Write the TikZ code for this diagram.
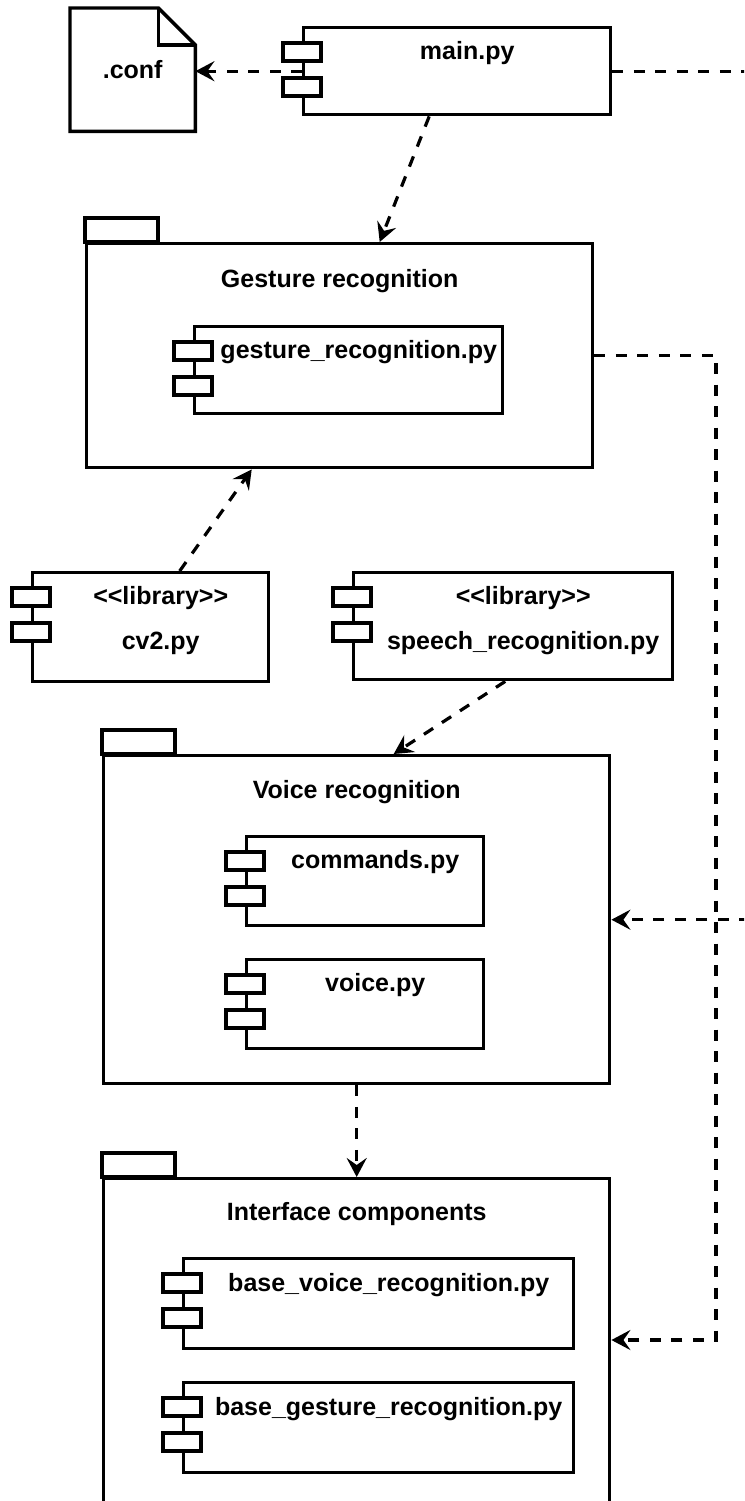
\documentclass[tikz,border=0pt]{standalone}
\usepackage{fontspec}
\setmainfont{Liberation Sans}
\usetikzlibrary{arrows.meta}

\tikzset{
  box/.style={draw, line width=3.4pt, inner sep=0pt, anchor=north west},
  txt/.style={font=\bfseries\fontsize{25}{30}\selectfont, inner sep=0pt},
  depline/.style={line width=3.2pt, dash pattern=on 11pt off 10.5pt},
  dep/.style={depline, -{Stealth[length=19pt,width=20pt,inset=7pt]}},
}
% the two small tabs on the left side of a component
\newcommand{\comptabs}[1]{%
  \foreach \dy in {-17,-52}
    \draw[line width=3.4pt, fill=white] ([xshift=-19pt,yshift=\dy pt]#1.north west) rectangle ++(38,18);
}
% tab on top of a package
\newcommand{\pkgtab}[1]{%
  \draw[line width=3.4pt] (#1.north west) rectangle ++(73,-24);
}
\newcommand{\stereo}[1]{<\kern0pt<#1>\kern0pt>}

\begin{document}
\begin{tikzpicture}[x=1pt,y=-1pt]
\clip (0,0) rectangle (744,1501);
\coordinate (edgeR) at (750,0);

% config file
\node[txt, minimum width=125pt, minimum height=123pt, anchor=north west] (conf) at (70,8) {.conf};
\draw[line width=3.4pt] (conf.north west) -- ([xshift=-37pt]conf.north east)
  -- ([yshift=-37pt]conf.north east) -- (conf.south east) -- (conf.south west) -- cycle;
\draw[line width=3.4pt] ([xshift=-37pt]conf.north east) |- ([yshift=-37pt]conf.north east);

% main
\node[box, minimum width=307pt, minimum height=87pt] (main) at (302,26) {};
\comptabs{main}
\node[txt] (mainlbl) at ([xshift=10pt,yshift=-27pt]main.north) {main.py};

% Gesture recognition
\node[box, minimum width=506pt, minimum height=224pt] (gest) at (85,242) {};
\pkgtab{gest}
\node[txt] (gestlbl) at ([yshift=-39pt]gest.north) {Gesture recognition};
\node[box, minimum width=308pt, minimum height=87pt] (gestpy) at (193,325) {};
\comptabs{gestpy}
\node[txt] (gestpylbl) at ([xshift=10pt,yshift=-27pt]gestpy.north) {gesture\_recognition.py};

% libraries
\node[box, minimum width=236pt, minimum height=109pt] (cv) at (31,571) {};
\comptabs{cv}
\node[txt] (cvst) at ([xshift=10pt,yshift=-27pt]cv.north) {\stereo{library}};
\node[txt] (cvlbl) at ([xshift=10pt,yshift=-72pt]cv.north) {cv2.py};

\node[box, minimum width=319pt, minimum height=107pt] (speech) at (352,571) {};
\comptabs{speech}
\node[txt] (speechst) at ([xshift=10pt,yshift=-27pt]speech.north) {\stereo{library}};
\node[txt] (speechlbl) at ([xshift=10pt,yshift=-72pt]speech.north) {speech\_recognition.py};

% Voice recognition
\node[box, minimum width=506pt, minimum height=328pt] (voice) at (102,754) {};
\pkgtab{voice}
\node[txt] (voicelbl) at ([yshift=-38pt]voice.north) {Voice recognition};
\node[box, minimum width=237pt, minimum height=89pt] (cmds) at (245,835) {};
\comptabs{cmds}
\node[txt] (cmdslbl) at ([xshift=10pt,yshift=-27pt]cmds.north) {commands.py};
\node[box, minimum width=237pt, minimum height=89pt] (voicepy) at (245,958) {};
\comptabs{voicepy}
\node[txt] (voicepylbl) at ([xshift=10pt,yshift=-27pt]voicepy.north) {voice.py};

% Interface components
\node[box, minimum width=506pt, minimum height=360pt] (iface) at (102,1177) {};
\pkgtab{iface}
\node[txt] (ifacelbl) at ([yshift=-37pt]iface.north) {Interface components};
\node[box, minimum width=390pt, minimum height=90pt] (bvoice) at (182,1257) {};
\comptabs{bvoice}
\node[txt] (bvoicelbl) at ([xshift=10pt,yshift=-28pt]bvoice.north) {base\_voice\_recognition.py};
\node[box, minimum width=390pt, minimum height=90pt] (bgest) at (182,1381) {};
\comptabs{bgest}
\node[txt] (bgestlbl) at ([xshift=10pt,yshift=-28pt]bgest.north) {base\_gesture\_recognition.py};

% dependencies
\draw[dep] (main.west) -- (main.west -| conf.east);
\draw[depline] (main.east) -- (main.east -| edgeR);
\draw[dep] ([xshift=-28pt]main.south) -- ([xshift=40pt]gest.north);
\draw[dep] ([xshift=29pt]cv.north) -- ([xshift=-88pt]gest.south);
\draw[dep] ([xshift=-8pt]speech.south) -- ([xshift=37pt]voice.north);
\draw[dep] (voice.south) -- (iface.north);
\coordinate (bend) at (716,1340);
\draw[dep] (gest.east) -| (bend) -- (bend -| iface.east);
\draw[dep] (voice.east -| edgeR) -- (voice.east);
\end{tikzpicture}
\end{document}
